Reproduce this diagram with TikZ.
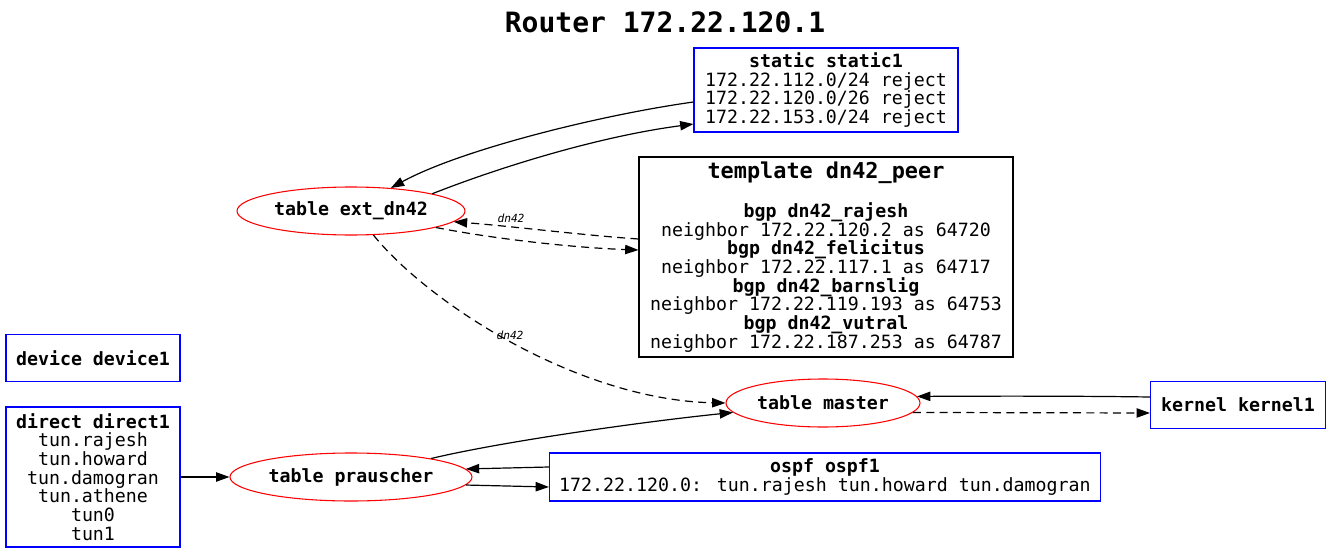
\documentclass[tikz,border=0pt]{standalone}
\usepackage{fontspec}
\setmainfont{DejaVu Sans Mono}
\usetikzlibrary{shapes.geometric,arrows.meta}
\newcommand{\bodyfont}{\fontsize{13.7}{14}\selectfont\lineskiplimit=-1000pt\relax}
\tikzset{
  box/.style={draw=blue, rectangle, inner sep=0pt, align=center, line width=0.8pt, font=\bodyfont},
  tbl/.style={draw=red, ellipse, inner sep=0pt, line width=0.8pt, font=\bfseries\bodyfont},
  arr/.style={-{Triangle[length=10pt,width=7pt]}, line width=0.9pt},
  dsh/.style={arr, dash pattern=on 6pt off 4pt},
  lbl/.style={inner sep=0pt, font=\itshape\fontsize{8.4}{8.4}\selectfont}
}
\begin{document}
\begin{tikzpicture}[x=0.75pt,y=-0.75pt]
\useasboundingbox (0,0) rectangle (1332,553);
\node[font=\bfseries\fontsize{21}{21}\selectfont] (title) at (665,22) {Router 172.22.120.1};
\node[box, minimum width=198pt, minimum height=63pt] (static) at (826,90)
  {\textbf{static static1}\\172.22.112.0/24 reject\\172.22.120.0/26 reject\\172.22.153.0/24 reject};
\node[box, draw=black, minimum width=280.5pt, minimum height=150pt] (tmpl) at (826,257)
  {{\bfseries\fontsize{16.4}{16.4}\selectfont template dn42\_peer}\\[15.25pt]
   \textbf{bgp dn42\_rajesh}\\neighbor 172.22.120.2 as 64720\\
   \textbf{bgp dn42\_felicitus}\\neighbor 172.22.117.1 as 64717\\
   \textbf{bgp dn42\_barnslig}\\neighbor 172.22.119.193 as 64753\\
   \textbf{bgp dn42\_vutral}\\neighbor 172.22.187.253 as 64787};
\node[tbl, minimum width=171pt, minimum height=36pt] (ext) at (351,211) {table ext\_dn42};
\node[box, minimum width=130.5pt, minimum height=35.25pt] (device) at (93,358) {\textbf{device device1}};
\node[box, minimum width=130.5pt, minimum height=105pt] (direct) at (93,477)
  {\textbf{direct direct1}\\tun.rajesh\\tun.howard\\tun.damogran\\tun.athene\\tun0\\tun1};
\node[tbl, minimum width=181.5pt, minimum height=36pt] (praus) at (351,477) {table prauscher};
\node[tbl, minimum width=145.5pt, minimum height=36pt] (master) at (823,403) {table master};
\node[box, minimum width=131.25pt, minimum height=35.25pt] (kernel) at (1238,405) {\textbf{kernel kernel1}};
\node[box, minimum width=413.25pt, minimum height=36pt] (ospf) at (825,477)
  {\textbf{ospf ospf1}\\172.22.120.0: tun.rajesh tun.howard tun.damogran};
% edges
\draw[arr] ([yshift=-9pt]static.west) .. controls (600,115) and (460,150) .. (ext.30);
\draw[arr] (ext.12) .. controls (495,169) and (595,137) .. ([yshift=-25.5pt]static.west);
\draw[dsh] ([yshift=13.5pt]tmpl.west) .. controls (580,235) and (510,226) .. (ext.-6);
\draw[dsh] (ext.-11) .. controls (500,240) and (580,248) .. ([yshift=5.25pt]tmpl.west);
\node[lbl] (lab1) at (511,218) {dn42};
\draw[dsh] (ext.-47) .. controls (430,305) and (580,400) .. (master.west);
\node[lbl] (lab2) at (510,335) {dn42};
\draw[arr] ([yshift=6pt]kernel.west) .. controls (1080,396) and (1000,396) .. (master.4);
\draw[dsh] (master.-6.5) -- ([yshift=-6pt]kernel.west);
\draw[arr] (praus.13) .. controls (500,442) and (640,422) .. (master.186);
\draw[arr] ([yshift=7.5pt]ospf.west) -- (praus.4);
\draw[arr] (praus.-4) -- ([yshift=-7.5pt]ospf.west);
\draw[arr] (direct.east) -- (praus.west);
\end{tikzpicture}
\end{document}
